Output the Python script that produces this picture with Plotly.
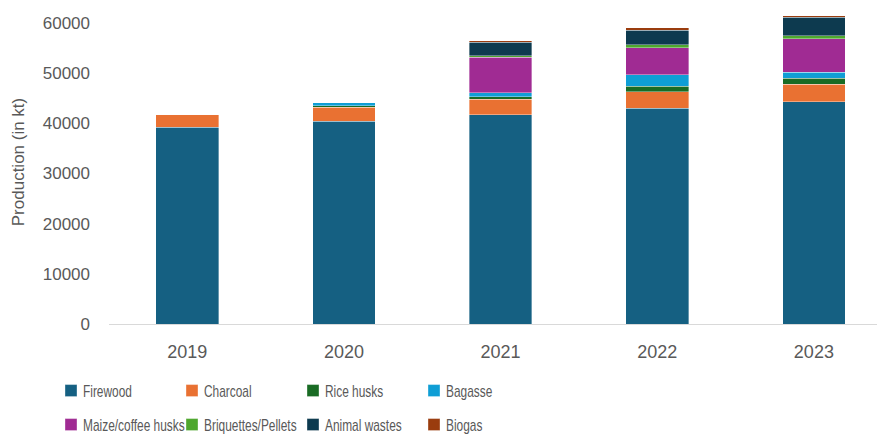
import json
import plotly.graph_objects as go

years = ["2019", "2020", "2021", "2022", "2023"]
firewood = [39200, 40400, 41700, 43000, 44350]
charcoal = [2600, 2800, 3100, 3270, 3450]
rice_husks = [0, 340, 540, 1120, 1190]
bagasse = [0, 600, 800, 2330, 1180]
maize_coffee = [0, 0, 7030, 5380, 6740]
briquettes = [0, 0, 340, 540, 540]
animal_wastes = [0, 0, 2650, 2910, 3710]
biogas = [0, 0, 340, 480, 340]

series = [
    ("Firewood", firewood, "#156082", "legend"),
    ("Charcoal", charcoal, "#E97132", "legend"),
    ("Rice husks", rice_husks, "#196B24", "legend"),
    ("Bagasse", bagasse, "#0F9ED5", "legend"),
    ("Maize/coffee husks", maize_coffee, "#A02B93", "legend2"),
    ("Briquettes/Pellets", briquettes, "#4EA72E", "legend2"),
    ("Animal wastes", animal_wastes, "#0D3A4F", "legend2"),
    ("Biogas", biogas, "#9A3C0E", "legend2"),
]

fig = go.Figure()
for name, vals, color, lg in series:
    fig.add_trace(go.Bar(
        x=list(range(len(years))), y=vals, name=name, legend=lg,
        marker=dict(color=color, line=dict(color="rgba(255,255,255,0.6)", width=0.6)),
        width=0.4,
    ))

base_font = "Liberation Sans, Arial, sans-serif"
tick_font = dict(family=base_font, size=17, color="#595959")
leg_font = dict(family=base_font, size=17, color="#595959")

fig.update_layout(
    barmode="stack",
    width=877, height=434,
    margin=dict(l=109, r=0, t=0, b=110),
    paper_bgcolor="white", plot_bgcolor="white",
    xaxis=dict(
        range=[-0.5, 4.403], tickmode="array", tickvals=list(range(len(years))), ticktext=years,
        showgrid=False, showline=True, linecolor="#D9D9D9", linewidth=1,
        ticks="", tickfont=dict(family=base_font, size=18, color="#595959"),
        ticklabelstandoff=11, zeroline=False,
    ),
    yaxis=dict(
        range=[0, 64600], tickvals=[0, 10000, 20000, 30000, 40000, 50000, 60000],
        tickformat="d", showgrid=False, zeroline=False, showline=False, ticks="",
        tickfont=tick_font, ticklabelstandoff=18,
        title=dict(text="Production (in kt)", font=dict(family=base_font, size=17, color="#595959"), standoff=13),
    ),
    legend=dict(orientation="h", xref="container", yref="container",
                x=51 / 877, xanchor="left", y=(434 - 391) / 434, yanchor="middle",
                entrywidth=76, entrywidthmode="pixels", font=leg_font, traceorder="normal",
                bgcolor="rgba(0,0,0,0)"),
    legend2=dict(orientation="h", xref="container", yref="container",
                 x=51 / 877, xanchor="left", y=(434 - 425) / 434, yanchor="middle",
                 entrywidth=76, entrywidthmode="pixels", font=leg_font, traceorder="normal",
                 bgcolor="rgba(0,0,0,0)"),
)

names_js = json.dumps([s[0] for s in series])

# Condense legend labels horizontally (the original uses a narrow typeface)
post = """
var names = __NAMES__;
function condense() {
  document.querySelectorAll('svg text').forEach(function(t) {
    if (names.indexOf(t.textContent) < 0) return;
    if (t.getAttribute('data-cond') === '1' && t.getAttribute('x') === '32') return;
    t.setAttribute('x', 32);
    t.removeAttribute('textLength');
    t.removeAttribute('lengthAdjust');
    var w = t.getComputedTextLength();
    t.setAttribute('textLength', (w * 0.70).toFixed(1));
    t.setAttribute('lengthAdjust', 'spacingAndGlyphs');
    t.setAttribute('data-cond', '1');
  });
}
condense();
setTimeout(condense, 0);
setTimeout(condense, 50);
setTimeout(condense, 300);
""".replace("__NAMES__", names_js)

fig.write_html("out.html", post_script=post)
